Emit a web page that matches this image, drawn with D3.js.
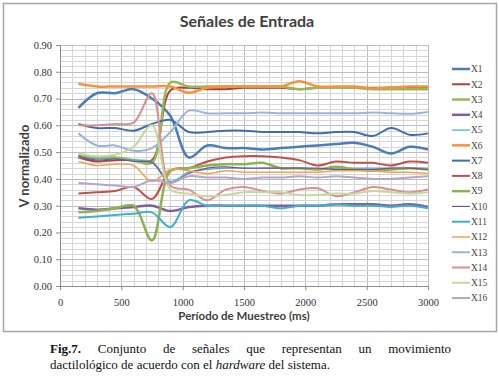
<!DOCTYPE html>
<html>
<head>
<meta charset="utf-8">
<script src="https://cdn.jsdelivr.net/npm/d3@7"></script>
<style>
  body { margin: 0; background: #fff; }
  svg { display: block; }
</style>
</head>
<body>
<div id="chart"></div>
<script>
// sample times (ms)
const times = [150, 300, 450, 600, 750, 900, 1050, 1200, 1350, 1500, 1650, 1800, 1950, 2100, 2250, 2400, 2550, 2700, 2850, 3000];

const seriesNames = ["X1", "X2", "X3", "X4", "X5", "X6", "X7", "X8", "X9", "X10", "X11", "X12", "X13", "X14", "X15", "X16"];

const x1 = [0.665, 0.72, 0.72, 0.735, 0.70, 0.635, 0.48, 0.525, 0.515, 0.515, 0.51, 0.515, 0.52, 0.525, 0.53, 0.535, 0.52, 0.495, 0.52, 0.51];
const x2 = [0.48, 0.465, 0.47, 0.47, 0.47, 0.73, 0.74, 0.735, 0.735, 0.74, 0.74, 0.74, 0.735, 0.74, 0.74, 0.74, 0.74, 0.74, 0.74, 0.74];
const x3 = [0.49, 0.48, 0.48, 0.47, 0.46, 0.76, 0.745, 0.745, 0.745, 0.745, 0.745, 0.745, 0.735, 0.74, 0.74, 0.74, 0.735, 0.735, 0.735, 0.735];
const x4 = [0.29, 0.285, 0.29, 0.295, 0.30, 0.28, 0.295, 0.30, 0.30, 0.30, 0.30, 0.30, 0.30, 0.30, 0.305, 0.305, 0.305, 0.30, 0.305, 0.295];
const x5 = [0.48, 0.475, 0.475, 0.47, 0.465, 0.39, 0.425, 0.435, 0.44, 0.44, 0.44, 0.44, 0.44, 0.435, 0.44, 0.44, 0.44, 0.44, 0.44, 0.44];
const x6 = [0.755, 0.745, 0.745, 0.745, 0.745, 0.745, 0.722, 0.74, 0.745, 0.745, 0.745, 0.745, 0.765, 0.745, 0.745, 0.745, 0.738, 0.742, 0.745, 0.745];
const x7 = [0.605, 0.59, 0.59, 0.58, 0.605, 0.62, 0.575, 0.575, 0.58, 0.58, 0.575, 0.575, 0.575, 0.57, 0.575, 0.575, 0.56, 0.59, 0.565, 0.57];
const x8 = [0.345, 0.35, 0.355, 0.37, 0.325, 0.43, 0.44, 0.465, 0.48, 0.485, 0.485, 0.48, 0.47, 0.45, 0.465, 0.46, 0.46, 0.45, 0.465, 0.46];
const x9 = [0.275, 0.28, 0.29, 0.30, 0.17, 0.43, 0.44, 0.45, 0.455, 0.455, 0.46, 0.44, 0.44, 0.435, 0.445, 0.435, 0.43, 0.435, 0.44, 0.435];
const x10 = [0.485, 0.47, 0.475, 0.465, 0.46, 0.385, 0.42, 0.44, 0.445, 0.44, 0.44, 0.44, 0.44, 0.44, 0.435, 0.435, 0.435, 0.44, 0.44, 0.435];
const x11 = [0.255, 0.26, 0.265, 0.27, 0.275, 0.22, 0.32, 0.30, 0.30, 0.30, 0.30, 0.29, 0.30, 0.30, 0.305, 0.30, 0.30, 0.295, 0.30, 0.29];
const x12 = [0.465, 0.45, 0.455, 0.45, 0.39, 0.435, 0.43, 0.42, 0.43, 0.425, 0.425, 0.425, 0.425, 0.425, 0.43, 0.43, 0.43, 0.425, 0.425, 0.42];
const x13 = [0.57, 0.525, 0.525, 0.505, 0.515, 0.575, 0.655, 0.645, 0.645, 0.645, 0.648, 0.645, 0.645, 0.645, 0.645, 0.645, 0.648, 0.645, 0.643, 0.65];
const x14 = [0.60, 0.60, 0.605, 0.61, 0.72, 0.375, 0.36, 0.32, 0.36, 0.37, 0.355, 0.345, 0.36, 0.365, 0.335, 0.35, 0.37, 0.36, 0.35, 0.36];
const x15 = [0.495, 0.485, 0.49, 0.52, 0.60, 0.36, 0.345, 0.335, 0.34, 0.35, 0.35, 0.35, 0.34, 0.34, 0.345, 0.345, 0.355, 0.35, 0.345, 0.35];
const x16 = [0.385, 0.38, 0.375, 0.37, 0.395, 0.385, 0.41, 0.405, 0.405, 0.40, 0.405, 0.405, 0.41, 0.405, 0.41, 0.405, 0.40, 0.40, 0.405, 0.41];

const seriesValues = [x1, x2, x3, x4, x5, x6, x7, x8, x9, x10, x11, x12, x13, x14, x15, x16];

const colors = ["#4a7ebb", "#b0413e", "#98b954", "#7d60a0", "#46aac5", "#f69240", "#3d6fb0", "#c0504d",
                "#8db250", "#6f5597", "#3fb0cf", "#f7a04f", "#9bb5d8", "#d9908e", "#c4d8a0", "#b3a6cc"];
const widths = [2.5, 2, 2.5, 2.5, 1.2, 2.5, 2, 2, 2.5, 1.2, 2, 1.5, 2, 2, 2, 2];

const xTicks = [0, 500, 1000, 1500, 2000, 2500, 3000];
const yTicks = [0, 0.1, 0.2, 0.3, 0.4, 0.5, 0.6, 0.7, 0.8, 0.9];

const W = 499, H = 376;
const PLOT = { LEFT: 60, RIGHT: 428, TOP: 45, BOTTOM: 286 };

const svg = d3.select("#chart").append("svg").attr("width", W).attr("height", H);

// chart frame
svg.append("rect")
  .attr("x", 3.5).attr("y", 3.5).attr("width", 493).attr("height", 328)
  .attr("fill", "#fff").attr("stroke", "#a6a6a6").attr("stroke-width", 1.5);

const x = d3.scaleLinear().domain([0, 3000]).range([PLOT.LEFT, PLOT.RIGHT]);
const y = d3.scaleLinear().domain([0, 0.9]).range([PLOT.BOTTOM, PLOT.TOP]);

// gridlines
const grid = svg.append("g");
grid.selectAll(".vg").data(d3.range(100, 3001, 100)).join("line")
  .attr("x1", d => Math.round(x(d)) + 0.5).attr("x2", d => Math.round(x(d)) + 0.5)
  .attr("y1", PLOT.TOP).attr("y2", PLOT.BOTTOM)
  .attr("stroke", d => d % 500 === 0 ? "#bdbdbd" : "#d6d6d6").attr("stroke-width", 1);
grid.selectAll(".hg").data(d3.range(1, 46).map(i => i * 0.02)).join("line")
  .attr("x1", PLOT.LEFT).attr("x2", PLOT.RIGHT)
  .attr("y1", d => Math.round(y(d)) + 0.5).attr("y2", d => Math.round(y(d)) + 0.5)
  .attr("stroke", (d, i) => (i + 1) % 5 === 0 ? "#bdbdbd" : "#d6d6d6").attr("stroke-width", 1);

// axes
const yAxis = svg.append("g")
  .attr("transform", `translate(${PLOT.LEFT},0)`)
  .call(d3.axisLeft(y).tickValues(yTicks).tickFormat(d3.format(".2f")).tickSize(4).tickPadding(4));
const xAxis = svg.append("g")
  .attr("transform", `translate(0,${PLOT.BOTTOM})`)
  .call(d3.axisBottom(x).tickValues(xTicks).tickFormat(d3.format("d")).tickSize(4).tickPadding(9));
[xAxis, yAxis].forEach(g => {
  g.selectAll("path, line").attr("stroke", "#8c8c8c");
  g.selectAll("text").attr("font-family", "'Liberation Serif', serif").attr("font-size", 10.5).attr("fill", "#333");
});

// series lines
const line = d3.line()
  .x((d, i) => x(times[i]))
  .y(d => y(d))
  .curve(d3.curveCatmullRom.alpha(0.5));

svg.append("g").selectAll("path").data(seriesValues).join("path")
  .attr("d", d => line(d))
  .attr("fill", "none")
  .attr("stroke", (d, i) => colors[i])
  .attr("stroke-width", (d, i) => widths[i])
  .attr("stroke-linejoin", "round");

// legend
const legend = svg.append("g").selectAll("g").data(seriesNames).join("g")
  .attr("transform", (d, i) => `translate(452,${69 + i * 15.27})`);
legend.append("line")
  .attr("x1", 0).attr("x2", 18)
  .attr("stroke", (d, i) => colors[i])
  .attr("stroke-width", (d, i) => widths[i]);
legend.append("text")
  .attr("x", 19).attr("dy", "0.35em")
  .attr("font-family", "'Liberation Serif', serif").attr("font-size", 9.5).attr("fill", "#444")
  .text(d => d);

// titles
svg.append("text")
  .attr("x", 247).attr("y", 27).attr("text-anchor", "middle")
  .attr("font-family", "Lato, sans-serif").attr("font-weight", "bold").attr("font-size", 16).attr("fill", "#404040")
  .text("Señales de Entrada");
svg.append("text")
  .attr("transform", "translate(29,166) rotate(-90)").attr("text-anchor", "middle")
  .attr("font-family", "Lato, sans-serif").attr("font-weight", "bold").attr("font-size", 13).attr("fill", "#404040")
  .text("V normalizado");
svg.append("text")
  .attr("x", 244).attr("y", 320).attr("text-anchor", "middle")
  .attr("font-family", "Lato, sans-serif").attr("font-weight", "bold").attr("font-size", 11.5).attr("fill", "#404040")
  .text("Período de Muestreo (ms)");

// caption (first line justified)
const cap1 = svg.append("text")
  .attr("x", 50).attr("y", 353)
  .attr("font-family", "'Liberation Serif', 'Times New Roman', serif").attr("font-size", 13).attr("fill", "#111");
cap1.append("tspan").attr("font-weight", "bold").text("Fig.7.");
cap1.append("tspan").text(" Conjunto de señales que representan un movimiento");
const w1 = cap1.node().getComputedTextLength();
cap1.attr("word-spacing", (401 - w1) / 7);

const cap2 = svg.append("text")
  .attr("x", 50).attr("y", 369)
  .attr("font-family", "'Liberation Serif', 'Times New Roman', serif").attr("font-size", 13).attr("fill", "#111");
cap2.append("tspan").text("dactilológico de acuerdo con el ");
cap2.append("tspan").attr("font-style", "italic").text("hardware");
cap2.append("tspan").text(" del sistema.");
</script>
</body>
</html>
